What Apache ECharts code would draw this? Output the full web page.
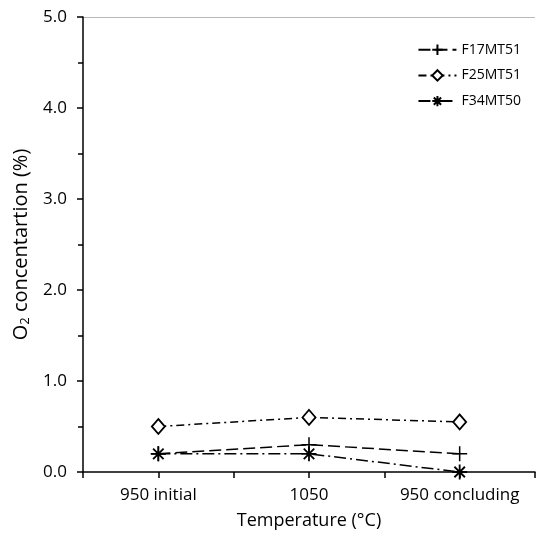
<!DOCTYPE html>
<html>
<head>
<meta charset="utf-8">
<script src="https://cdn.jsdelivr.net/npm/echarts@6/dist/echarts.min.js"></script>
<style>
  html, body { margin: 0; padding: 0; background: #fff; }
  #main { width: 538px; height: 538px; }
</style>
</head>
<body>
<div id="main"></div>
<script>
// 数据
var categories = ['950 initial', '1050', '950 concluding'];
var F17MT51 = [0.2, 0.3, 0.2];
var F25MT51 = [0.5, 0.6, 0.55];
var F34MT50 = [0.2, 0.2, 0.0];
var yTicks = [0, 1, 2, 3, 4, 5];

var FONT = '"Open Sans", "Liberation Sans", sans-serif';
var plusPath = 'path://M0,5L10,5M5,0L5,10';
var starPath = 'path://M0,5L10,5M1.5,1.5L8.5,8.5M8.5,1.5L1.5,8.5M5,0L5,10';

function pts(arr) {
  return arr.map(function (v, i) { return [i, v]; });
}

var chart = echarts.init(document.getElementById('main'));

var option = {
  backgroundColor: '#fff',
  animation: false,
  grid: { left: 83, right: -3, top: 17, bottom: 66 },
  legend: {
    orient: 'vertical',
    right: 12,
    top: 37,
    itemGap: 11,
    itemWidth: 38,
    itemHeight: 13,
    textStyle: { fontFamily: FONT, fontSize: 14, color: '#000' },
    data: ['F17MT51', 'F25MT51', 'F34MT50']
  },
  xAxis: {
    type: 'value',
    min: -0.5,
    max: 2.5,
    interval: 0.5,
    name: 'Temperature (\u00B0C)',
    nameLocation: 'middle',
    nameGap: 40,
    nameTextStyle: { fontFamily: FONT, fontSize: 18, color: '#000' },
    axisLine: { lineStyle: { color: '#000', width: 1.5 } },
    axisTick: { show: true, length: 6, lineStyle: { color: '#000', width: 1.5 } },
    splitLine: { show: false },
    axisLabel: {
      fontFamily: FONT, fontSize: 17, color: '#000', margin: 15,
      formatter: function (v) {
        var i = Math.round(v);
        return (Math.abs(v - i) < 1e-6 && categories[i]) ? categories[i] : '';
      }
    }
  },
  yAxis: {
    type: 'value',
    min: yTicks[0],
    max: yTicks[yTicks.length - 1],
    interval: 1,
    name: '{a|O}{s|2}{a| concentartion (%)}',
    nameLocation: 'middle',
    nameGap: 50,
    nameTextStyle: {
      fontFamily: FONT, fontSize: 20, color: '#000',
      rich: {
        a: { fontFamily: FONT, fontSize: 20, color: '#000' },
        s: { fontFamily: FONT, fontSize: 13, color: '#000', verticalAlign: 'bottom', padding: [9, 0, 0, 0] }
      }
    },
    axisLine: { show: true, onZero: false, lineStyle: { color: '#000', width: 1.5 } },
    axisTick: { show: true, length: 6, lineStyle: { color: '#000', width: 1.5 } },
    minorTick: { show: true, splitNumber: 2, length: 5, lineStyle: { color: '#000', width: 1.5 } },
    splitLine: {
      show: true,
      lineStyle: { color: ['transparent', 'transparent', 'transparent', 'transparent', 'transparent', '#b8b8b8'], width: 1 }
    },
    axisLabel: {
      fontFamily: FONT, fontSize: 17, color: '#000', margin: 16,
      formatter: function (v) { return v.toFixed(1); }
    }
  },
  series: [
    {
      name: 'F17MT51',
      type: 'line',
      data: pts(F17MT51),
      symbol: plusPath,
      symbolSize: 15,
      itemStyle: { color: 'none', borderColor: '#000', borderWidth: 1.5 },
      lineStyle: { color: '#000', width: 1.5, type: [12, 5] },
      z: 3
    },
    {
      name: 'F25MT51',
      type: 'line',
      data: pts(F25MT51),
      symbol: 'diamond',
      symbolSize: [13, 15],
      itemStyle: { color: '#fff', borderColor: '#000', borderWidth: 1.8 },
      lineStyle: { color: '#000', width: 1.5, type: [8, 4, 2, 4] },
      z: 4
    },
    {
      name: 'F34MT50',
      type: 'line',
      data: pts(F34MT50),
      symbol: starPath,
      symbolSize: 15,
      itemStyle: { color: 'none', borderColor: '#000', borderWidth: 1.8 },
      lineStyle: { color: '#000', width: 1.5, type: [12, 4, 2, 4] },
      z: 5
    }
  ]
};

chart.setOption(option);
</script>
</body>
</html>
